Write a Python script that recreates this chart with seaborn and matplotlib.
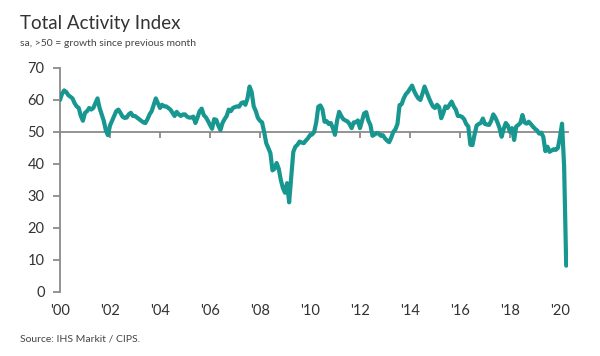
import numpy as np
import pandas as pd
import matplotlib
matplotlib.use("Agg")
import matplotlib.pyplot as plt
import seaborn as sns

# monthly index values, Jan 2000 .. Apr 2020
y2000 = [60, 62, 63, 62.5, 61.5, 61, 60.5, 59, 58, 57.5, 55, 53.5]
y2001 = [56, 56.5, 57.5, 57, 57.5, 59, 60.5, 57.5, 55.5, 53.5, 50.5, 49]
y2002 = [52, 53.5, 55, 56.5, 57, 56, 54.8, 54.4, 54.5, 55.5, 56, 55]
y2003 = [55, 54.5, 54, 53.5, 53, 52.8, 54, 55.5, 56.5, 58.5, 60.5, 59]
y2004 = [57.5, 58.5, 58, 58, 57.5, 57, 56, 55, 56.3, 55.5, 55, 55.5]
y2005 = [55.5, 54.8, 54.5, 54.5, 54.8, 52.8, 54.5, 56.5, 57.3, 55.3, 54.6, 53.5]
y2006 = [52.2, 51, 54, 53.8, 52, 50.6, 52.8, 54, 55, 57, 56.5, 57.5]
y2007 = [57.8, 58, 57.9, 59, 59.3, 58.5, 60.5, 64.2, 62.5, 58, 56.5, 54.4]
y2008 = [53.5, 53, 50, 46.5, 45, 43.4, 38, 38.5, 40.3, 38.5, 35, 32.5]
y2009 = [31, 34, 28, 36, 43.8, 45.4, 46, 47, 46.7, 46.5, 47.3, 48]
y2010 = [49, 49.2, 50, 53, 57.9, 58.3, 57, 53.2, 53.4, 52.5, 52.8, 51.2]
y2011 = [49.1, 53.5, 56.3, 55, 54, 53.6, 53.3, 52.5, 51.2, 53, 53, 53.6]
y2012 = [51.2, 53.5, 55.8, 56.2, 53.6, 52.2, 48.8, 49.2, 49.7, 49.5, 48.8, 49]
y2013 = [48, 47.3, 46.8, 48.2, 50, 50.8, 52.5, 58.4, 58.7, 60.5, 61.8, 62.5]
y2014 = [63.5, 64.5, 62.8, 61.5, 60.5, 60, 62, 64.2, 62.5, 60.8, 59.3, 58]
y2015 = [57.5, 58.5, 57.8, 54.3, 55.9, 58, 57.5, 58.5, 59.5, 58, 57, 55]
y2016 = [55, 54.7, 54, 52.5, 51.7, 46, 45.9, 49.2, 52, 52.5, 52.8, 54.2]
y2017 = [52.5, 52.3, 52.2, 53.5, 55.5, 54.5, 53, 51.2, 48.5, 51, 52.8, 52]
y2018 = [50, 51.2, 47.5, 51.7, 52.2, 52.8, 55.3, 53, 52.6, 53.2, 52.5, 51.7]
y2019 = [51, 50.5, 49.5, 49.8, 48.5, 44, 45.4, 43.8, 44.2, 44.6, 44.4, 45]
y2020 = [48.4, 52.6, 39.3, 8.2]

years = list(range(2000, 2021))
values = [y2000, y2001, y2002, y2003, y2004, y2005, y2006, y2007, y2008, y2009,
          y2010, y2011, y2012, y2013, y2014, y2015, y2016, y2017, y2018, y2019, y2020]

tick_years = list(range(2000, 2021, 2))
tick_labels = ["'00", "'02", "'04", "'06", "'08", "'10", "'12", "'14", "'16", "'18", "'20"]

rows = []
for yr, vals in zip(years, values):
    for m, v in enumerate(vals):
        rows.append({"t": yr + m / 12, "index": v})
df = pd.DataFrame(rows)

sns.set_style("ticks")
plt.rcParams['font.family'] = ['Lato', 'DejaVu Sans']

teal = "#17978f"
grey = "#8a8a8a"
txt = "#333333"

fig = plt.figure(figsize=(6, 3.56), dpi=100)
ax = fig.add_axes([0.1, 0.18, 0.847, 0.629])

sns.lineplot(data=df, x="t", y="index", ax=ax, color=teal, linewidth=3.0,
             solid_joinstyle="round", solid_capstyle="round", zorder=3)

ax.set_ylim(0, 70)
ax.set_xlim(2000, 2020.33)
ax.set_yticks(range(0, 71, 10))
ax.set_xlabel("")
ax.set_ylabel("")

# 50 line acts as the x axis, with ticks hanging from it
ax.spines['bottom'].set_position(('data', 50))
ax.spines['bottom'].set_color(grey)
ax.spines['bottom'].set_linewidth(1.3)
ax.spines['bottom'].set_zorder(2)
ax.spines['left'].set_color(grey)
ax.spines['left'].set_linewidth(1.3)
sns.despine(ax=ax, top=True, right=True)
ax.set_xticks(tick_years)
ax.tick_params(axis='x', direction='out', length=4, width=1.3, color=grey, labelbottom=False)
ax.tick_params(axis='y', direction='out', length=5, width=1.3, color=grey, labelsize=10.5,
               labelcolor=txt, pad=6)

# year labels below the plot
sec = ax.secondary_xaxis('bottom')
sec.set_xticks(tick_years)
sec.set_xticklabels(tick_labels)
sec.spines['bottom'].set_visible(False)
sec.tick_params(length=0, labelsize=10.5, labelcolor=txt, pad=9)

fig.text(0.033, 0.935, "Total Activity Index", fontsize=13.5, color=txt, va="center")
fig.text(0.033, 0.878, "sa, >50 = growth since previous month", fontsize=7.5, color="#444444", va="center")
fig.text(0.033, 0.047, "Source: IHS Markit / CIPS.", fontsize=7.5, color="#444444", va="center")

fig.savefig("out.png", dpi=100)
